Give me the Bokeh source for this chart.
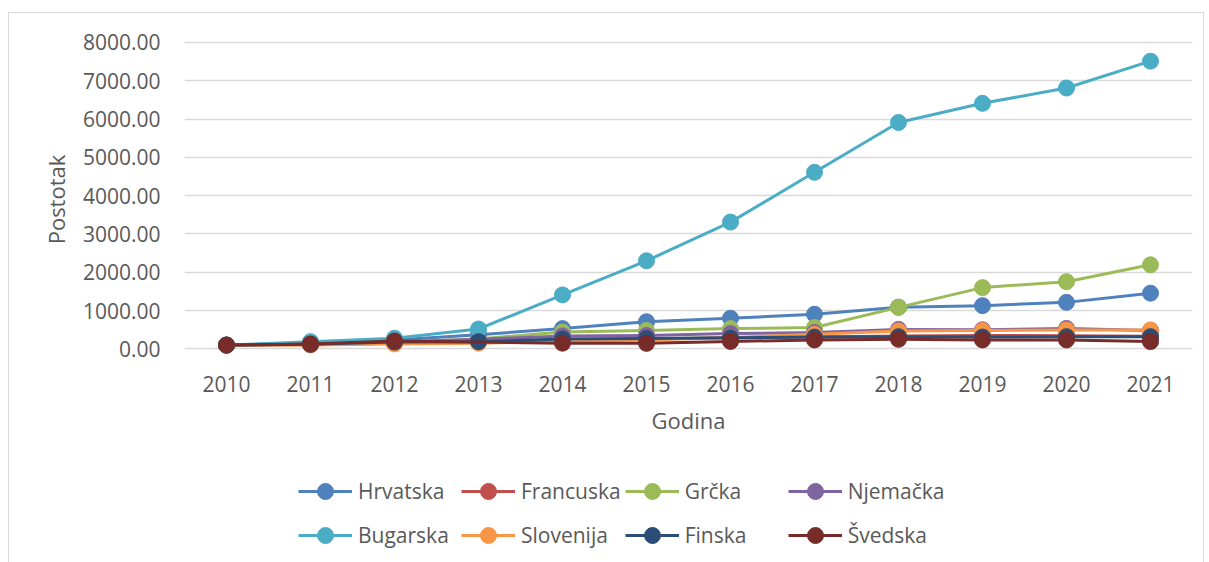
from bokeh.plotting import figure
from bokeh.layouts import column
from bokeh.models import FactorRange, Range1d, FixedTicker, NumeralTickFormatter, Legend, LegendItem
from bokeh.embed import file_html
from bokeh.resources import INLINE

years = ["2010", "2011", "2012", "2013", "2014", "2015", "2016", "2017", "2018", "2019", "2020", "2021"]

hrvatska = [100, 150, 230, 370, 530, 710, 800, 905, 1090, 1130, 1215, 1455]
francuska = [100, 110, 150, 200, 240, 260, 290, 310, 340, 350, 345, 330]
grcka = [100, 120, 170, 260, 440, 480, 530, 560, 1085, 1600, 1755, 2195]
njemacka = [100, 120, 180, 250, 340, 350, 400, 430, 510, 500, 535, 480]
bugarska = [100, 190, 280, 520, 1410, 2300, 3310, 4610, 5910, 6410, 6810, 7510]
slovenija = [100, 105, 130, 150, 200, 230, 300, 380, 470, 480, 495, 495]
finska = [100, 120, 180, 190, 260, 270, 290, 310, 320, 310, 320, 320]
svedska = [100, 130, 208, None, 150, 145, 195, 234, 252, 234, 234, 191]

names = ["Hrvatska", "Francuska", "Grčka", "Njemačka", "Bugarska", "Slovenija", "Finska", "Švedska"]
colors = ["#4F81BD", "#C0504D", "#9BBB59", "#8064A2", "#4BACC6", "#F79646", "#2C4D75", "#772C2A"]
values = [hrvatska, francuska, grcka, njemacka, bugarska, slovenija, finska, svedska]

y_ticks = [0, 1000, 2000, 3000, 4000, 5000, 6000, 7000, 8000]

FONT = "Open Sans"
TXT = "#595959"

xr = FactorRange(*years)

p = figure(width=1194, height=427,
           x_range=xr, y_range=Range1d(-250, 8050),
           output_backend="svg", toolbar_location=None,
           min_border_left=175, min_border_right=11,
           min_border_top=27, min_border_bottom=82)
p.outline_line_color = None

p.xgrid.grid_line_color = None
p.ygrid.grid_line_color = "#d9d9d9"
p.ygrid.grid_line_width = 1.3
p.yaxis.ticker = FixedTicker(ticks=y_ticks)
p.yaxis.formatter = NumeralTickFormatter(format="0.00")

for ax in (p.xaxis[0], p.yaxis[0]):
    ax.axis_line_color = None
    ax.major_tick_line_color = None
    ax.minor_tick_line_color = None
    ax.major_label_text_font = FONT
    ax.major_label_text_font_size = "21px"
    ax.major_label_text_color = TXT
    ax.axis_label_text_font = FONT
    ax.axis_label_text_font_size = "22px"
    ax.axis_label_text_font_style = "normal"
    ax.axis_label_text_color = TXT

p.yaxis.axis_label = "Postotak"
p.yaxis.major_label_standoff = 18
p.yaxis.axis_label_standoff = 9
p.xaxis.axis_label = "Godina"
p.xaxis.major_label_standoff = 11
p.xaxis.axis_label_standoff = 10

# legend panel: a separate figure (same x range, y range below all data, so
# its renderers draw nothing visible) so that the legend is not clipped
p2 = figure(width=1194, height=122, x_range=xr, y_range=Range1d(-2, -1),
            x_axis_type=None, y_axis_type=None,
            output_backend="svg", toolbar_location=None,
            min_border_left=175, min_border_right=11, min_border_top=0, min_border_bottom=0)
p2.outline_line_color = None
p2.xgrid.grid_line_color = None
p2.ygrid.grid_line_color = None

items = []
for name, vals, col in zip(names, values, colors):
    xs = [y for y, v in zip(years, vals) if v is not None]
    ys = [v for v in vals if v is not None]
    p.line(xs, ys, line_color=col, line_width=3, line_join="round")
    p.scatter(xs, ys, size=16, fill_color=col, line_color=col)
    l1 = p2.line(xs, ys, line_color=col, line_width=3)
    l2 = p2.scatter(xs, ys, size=16, fill_color=col, line_color=col)
    items.append(LegendItem(label=name, renderers=[l1, l2]))

legend = Legend(items=items, location=(114, 7), orientation="horizontal", ncols=4,
                glyph_width=54, glyph_height=40, label_height=40, label_width=99,
                label_standoff=6, spacing=4, padding=0, margin=0,
                border_line_color=None, background_fill_alpha=0,
                label_text_font=FONT, label_text_font_size="21px", label_text_color=TXT)
p2.add_layout(legend, "center")

layout = column(p, p2, spacing=0)
layout.styles = {"margin-left": "8px", "margin-top": "12px",
                 "border-left": "1px solid #d9d9d9", "border-top": "1px solid #d9d9d9",
                 "border-right": "1px solid #d9d9d9"}

open("out.html", "w").write(file_html(layout, INLINE))
